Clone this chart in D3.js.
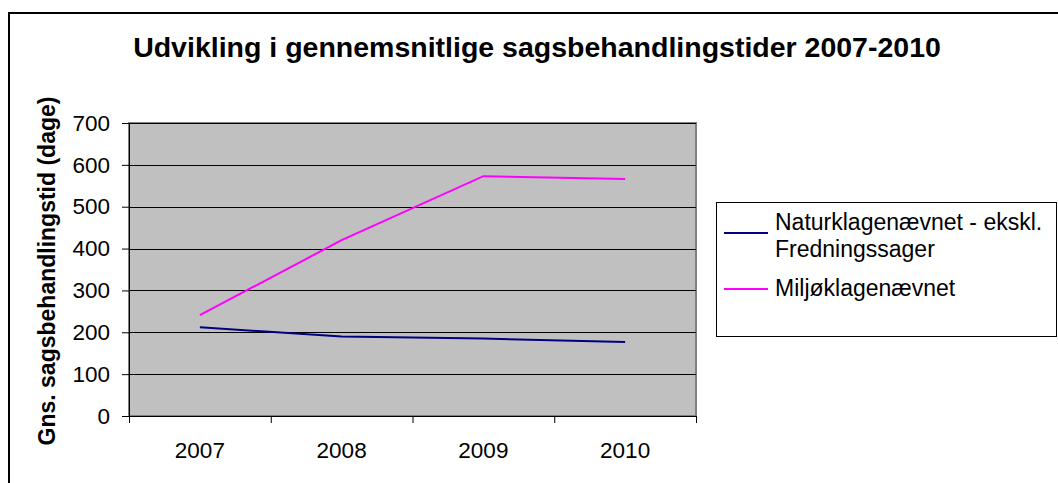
<!DOCTYPE html>
<html>
<head>
<meta charset="utf-8">
<script src="https://cdn.jsdelivr.net/npm/d3@7"></script>
<style>
  body { margin: 0; background: #fff; }
  svg { display: block; font-family: "Liberation Sans", Arial, sans-serif; }
</style>
</head>
<body>
<svg id="chart" width="1058" height="483"></svg>
<script>
// data
const years = ["2007", "2008", "2009", "2010"];
const naturValues = [212, 190, 185, 177];
const miljoValues = [241, 420, 573, 566];
const yTicks = [0, 100, 200, 300, 400, 500, 600, 700];
const seriesNames = ["Naturklagenævnet - ekskl. Fredningssager", "Miljøklagenævnet"];

const svg = d3.select("#chart");

// plot area
const plot = { left: 129, right: 696, top: 123, bottom: 416 };

// outer frame
svg.append("rect")
    .attr("x", 9).attr("y", 13)
    .attr("width", 1070).attr("height", 500)
    .attr("fill", "none")
    .attr("stroke", "#000")
    .attr("stroke-width", 2);

// title
svg.append("text")
    .attr("x", 537).attr("y", 57)
    .attr("text-anchor", "middle")
    .attr("font-size", "28.5px")
    .attr("font-weight", "bold")
    .text("Udvikling i gennemsnitlige sagsbehandlingstider 2007-2010");

//SCALES
const x = d3.scaleBand()
    .domain(years)
    .range([plot.left, plot.right])
    .padding(0);

const y = d3.scaleLinear()
    .domain([0, 700])
    .range([plot.bottom, plot.top]);

// gray plot background
svg.append("rect")
    .attr("x", plot.left).attr("y", plot.top)
    .attr("width", plot.right - plot.left)
    .attr("height", plot.bottom - plot.top)
    .attr("fill", "#c0c0c0")
    .attr("stroke", "#808080")
    .attr("stroke-width", 2);

// gridlines
svg.append("g")
    .selectAll("line")
    .data(yTicks.filter(d => d > 0))
    .join("line")
    .attr("x1", plot.left).attr("x2", plot.right)
    .attr("y1", d => Math.round(y(d)) + 0.5)
    .attr("y2", d => Math.round(y(d)) + 0.5)
    .attr("stroke", "#000")
    .attr("stroke-width", 1);

//Y AXIS
const yAxis = svg.append("g")
    .attr("transform", `translate(${plot.left},0)`)
    .call(d3.axisLeft(y).tickValues(yTicks).tickSize(7).tickPadding(12));
yAxis.selectAll("text").attr("font-size", "22.5px").attr("fill", "#000").attr("font-family", "inherit");
yAxis.selectAll("line").attr("stroke", "#000");
yAxis.select(".domain").attr("stroke", "#000");

//X AXIS - ticks at category boundaries
const xEdges = d3.scaleLinear().domain([0, years.length]).range([plot.left, plot.right]);
const xTickAxis = svg.append("g")
    .attr("transform", `translate(0,${plot.bottom})`)
    .call(d3.axisBottom(xEdges).ticks(years.length).tickFormat("").tickSize(7));
xTickAxis.selectAll("line").attr("stroke", "#000");
xTickAxis.select(".domain").attr("stroke", "#000");

// year labels at band centers
svg.append("g")
    .selectAll("text")
    .data(years)
    .join("text")
    .attr("x", d => x(d) + x.bandwidth() / 2)
    .attr("y", 458)
    .attr("text-anchor", "middle")
    .attr("font-size", "22.5px")
    .text(d => d);

// y axis title
svg.append("text")
    .attr("transform", "translate(55,271) rotate(-90)")
    .attr("text-anchor", "middle")
    .attr("font-size", "23px")
    .attr("font-weight", "bold")
    .text("Gns. sagsbehandlingstid (dage)");

//LINES
const line = d3.line()
    .x((d, i) => x(years[i]) + x.bandwidth() / 2)
    .y(d => y(d));

svg.append("path")
    .datum(naturValues)
    .attr("fill", "none")
    .attr("stroke", "#000080")
    .attr("stroke-width", 2)
    .attr("d", line);

svg.append("path")
    .datum(miljoValues)
    .attr("fill", "none")
    .attr("stroke", "#ff00ff")
    .attr("stroke-width", 2)
    .attr("d", line);

//LEGEND
const legend = svg.append("g");
legend.append("rect")
    .attr("x", 716.5).attr("y", 202.5)
    .attr("width", 340).attr("height", 134)
    .attr("fill", "#fff")
    .attr("stroke", "#000")
    .attr("stroke-width", 1);

legend.append("line")
    .attr("x1", 724).attr("x2", 768)
    .attr("y1", 233).attr("y2", 233)
    .attr("stroke", "#000080").attr("stroke-width", 2);
legend.append("text")
    .attr("x", 775).attr("y", 230)
    .attr("font-size", "23px")
    .text("Naturklagenævnet - ekskl.");
legend.append("text")
    .attr("x", 775).attr("y", 257)
    .attr("font-size", "23px")
    .text("Fredningssager");

legend.append("line")
    .attr("x1", 724).attr("x2", 768)
    .attr("y1", 289).attr("y2", 289)
    .attr("stroke", "#ff00ff").attr("stroke-width", 2);
legend.append("text")
    .attr("x", 775).attr("y", 296)
    .attr("font-size", "23px")
    .text(seriesNames[1]);
</script>
</body>
</html>
